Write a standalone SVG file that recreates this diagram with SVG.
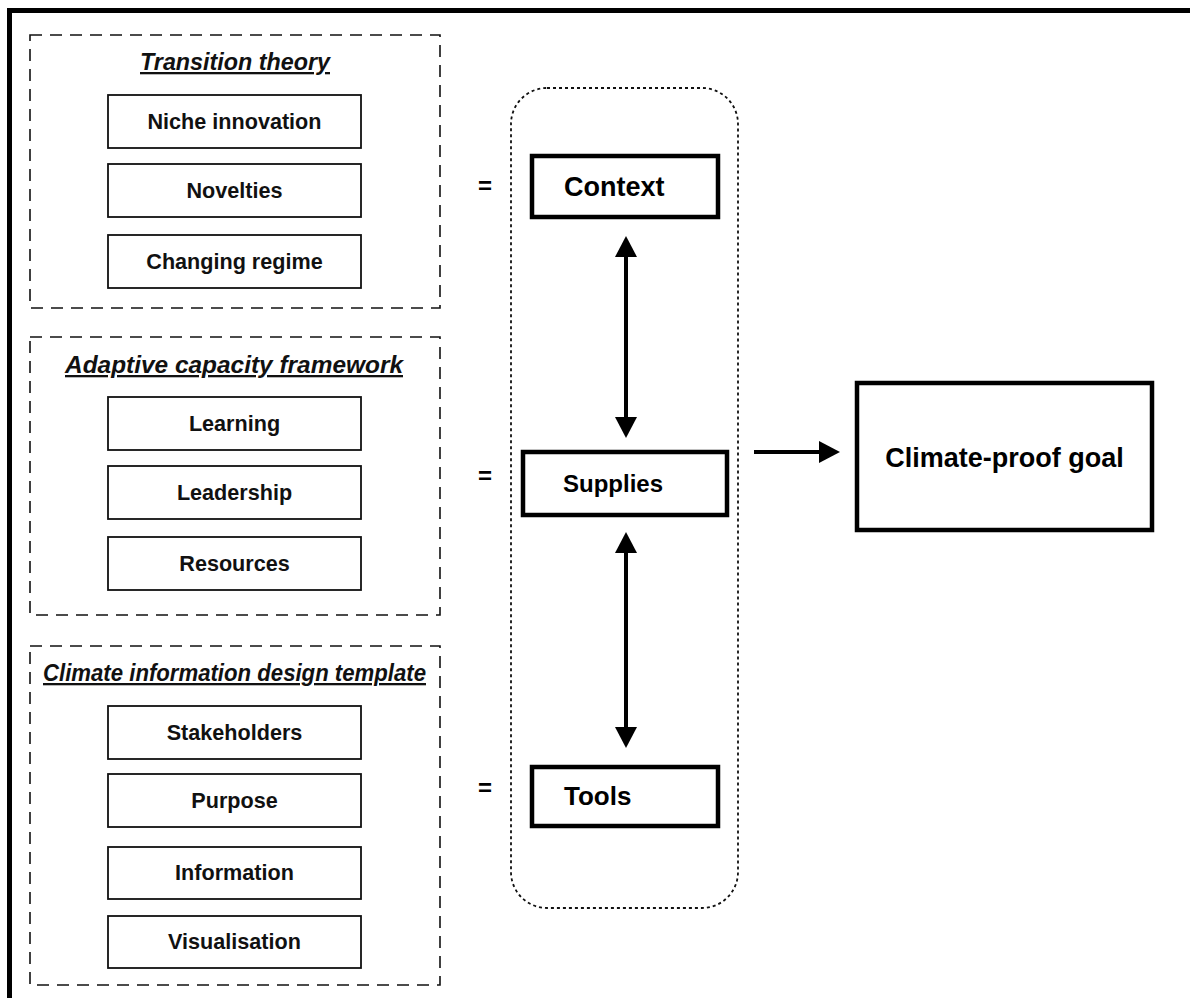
<svg xmlns="http://www.w3.org/2000/svg" width="1190" height="998" viewBox="0 0 1190 998">
<style>
  .frame{fill:none;stroke:#000;stroke-width:5}
  .group{fill:none;stroke:#111;stroke-width:1.6;stroke-dasharray:12 8}
  .item{fill:#fff;stroke:#111;stroke-width:1.8}
  .itemtxt{font-family:"Liberation Sans",Arial,sans-serif;font-weight:bold;font-size:21.6px;fill:#111;text-anchor:middle}
  .title{font-family:"Liberation Sans",Arial,sans-serif;font-weight:bold;font-style:italic;font-size:23px;fill:#111;text-anchor:middle;text-decoration:underline}
  .main{fill:#fff;stroke:#000;stroke-width:4.5}
  .maintxt{font-family:"Liberation Sans",Arial,sans-serif;font-weight:bold;fill:#000}
  .eq{font-family:"Liberation Sans",Arial,sans-serif;font-weight:bold;font-size:24px;fill:#000;text-anchor:middle}
  .dotted{fill:none;stroke:#111;stroke-width:1.8;stroke-dasharray:3 3}
  .conn{stroke:#000;stroke-width:4;fill:none}
</style>
<defs>
  <marker id="ah" markerUnits="userSpaceOnUse" markerWidth="22" markerHeight="22" refX="3" refY="11" orient="auto-start-reverse">
    <path d="M0,0 L21,11 L0,22 z" fill="#000"/>
  </marker>
</defs>
<rect width="1190" height="998" fill="#fff"/>
<rect class="frame" x="9.5" y="10.5" width="1200" height="1000"/>

<g id="transition-theory">
  <rect class="group" x="30" y="35" width="410" height="273"/>
  <text class="title" x="235" y="70" textLength="190" lengthAdjust="spacingAndGlyphs">Transition theory</text>
  <g id="niche-innovation"><rect class="item" x="108" y="95" width="253" height="53"/><text class="itemtxt" x="234.5" y="129">Niche innovation</text></g>
  <g id="novelties"><rect class="item" x="108" y="164" width="253" height="53"/><text class="itemtxt" x="234.5" y="198">Novelties</text></g>
  <g id="changing-regime"><rect class="item" x="108" y="235" width="253" height="53"/><text class="itemtxt" x="234.5" y="269">Changing regime</text></g>
</g>

<g id="adaptive-capacity">
  <rect class="group" x="30" y="337" width="410" height="278"/>
  <text class="title" x="234" y="373" textLength="338" lengthAdjust="spacingAndGlyphs">Adaptive capacity framework</text>
  <g id="learning"><rect class="item" x="108" y="397" width="253" height="53"/><text class="itemtxt" x="234.5" y="431">Learning</text></g>
  <g id="leadership"><rect class="item" x="108" y="466" width="253" height="53"/><text class="itemtxt" x="234.5" y="500">Leadership</text></g>
  <g id="resources"><rect class="item" x="108" y="537" width="253" height="53"/><text class="itemtxt" x="234.5" y="571">Resources</text></g>
</g>

<g id="climate-info-template">
  <rect class="group" x="30" y="646" width="410" height="339"/>
  <text class="title" x="234.5" y="681" textLength="383" lengthAdjust="spacingAndGlyphs">Climate information design template</text>
  <g id="stakeholders"><rect class="item" x="108" y="706" width="253" height="53"/><text class="itemtxt" x="234.5" y="740">Stakeholders</text></g>
  <g id="purpose"><rect class="item" x="108" y="774" width="253" height="53"/><text class="itemtxt" x="234.5" y="808">Purpose</text></g>
  <g id="information"><rect class="item" x="108" y="847" width="253" height="52"/><text class="itemtxt" x="234.5" y="880">Information</text></g>
  <g id="visualisation"><rect class="item" x="108" y="916" width="253" height="52"/><text class="itemtxt" x="234.5" y="949">Visualisation</text></g>
</g>

<g id="equals">
  <text class="eq" x="485" y="194">=</text>
  <text class="eq" x="485" y="484">=</text>
  <text class="eq" x="485" y="796">=</text>
</g>

<g id="core-container">
  <rect class="dotted" x="511" y="88" width="227" height="820" rx="36" ry="36"/>
</g>

<g id="context">
  <rect class="main" x="532" y="156" width="186" height="61"/>
  <text class="maintxt" x="564" y="196" font-size="27">Context</text>
</g>
<g id="supplies">
  <rect class="main" x="523" y="452" width="204" height="63"/>
  <text class="maintxt" x="563" y="492" font-size="24">Supplies</text>
</g>
<g id="tools">
  <rect class="main" x="532" y="767" width="186" height="59"/>
  <text class="maintxt" x="564" y="805" font-size="26">Tools</text>
</g>
<g id="climate-proof-goal">
  <rect class="main" x="857" y="383" width="295" height="147" stroke-width="5"/>
  <text class="maintxt" x="1004.5" y="467" font-size="27" text-anchor="middle">Climate-proof goal</text>
</g>

<g id="connectors">
  <line class="conn" x1="626" y1="254" x2="626" y2="420" marker-start="url(#ah)" marker-end="url(#ah)"/>
  <line class="conn" x1="626" y1="550" x2="626" y2="730" marker-start="url(#ah)" marker-end="url(#ah)"/>
  <line class="conn" x1="754" y1="452" x2="822" y2="452" marker-end="url(#ah)"/>
</g>
</svg>
